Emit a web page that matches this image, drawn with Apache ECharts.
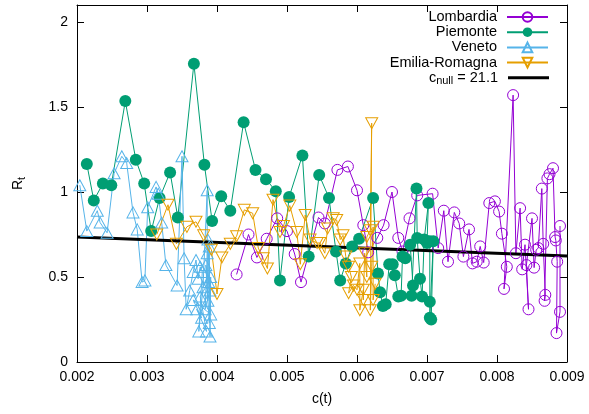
<!DOCTYPE html>
<html><head><meta charset="utf-8">
<script src="https://cdn.jsdelivr.net/npm/echarts@6/dist/echarts.min.js"></script>
<style>html,body{margin:0;padding:0;background:#fff}#c{width:589px;height:414px}</style>
</head><body><div id="c"></div>
<script>
// ---- data ----
const xTicks = [0.002, 0.009, 0.001];   // min, max, step of c(t)
const yTicks = [0, 2.1, 0.5];           // min, max, step of R_t

const lombC = [0.00428,0.00445,0.00457,0.00471,0.00486,0.00500,0.00511,0.00520,0.00545,0.00554,0.00572,0.00587,0.00600,0.00609,0.00616,0.00629,0.00638,0.00650,0.00659,0.00665,0.00675,0.00686,0.00708,0.00716,0.00724,0.00730,0.00739,0.00746,0.00752,0.00760,0.00765,0.00771,0.00776,0.00781,0.00789,0.00797,0.00803,0.00807,0.00814,0.00810,0.00823,0.00827,0.00833,0.00836,0.00840,0.00845,0.00842,0.00850,0.00853,0.00856,0.00859,0.00864,0.00866,0.00869,0.00868,0.00872,0.00875,0.00880,0.00883,0.00884,0.00886,0.00885,0.00890,0.00890];
const lombR = [0.515,0.75,0.615,0.725,0.845,0.77,0.635,0.47,0.85,0.815,1.13,1.15,1.01,0.805,0.645,0.73,0.805,1.0,0.73,0.65,0.845,0.98,0.99,0.67,0.89,0.59,0.88,0.815,0.62,0.78,0.58,0.59,0.68,0.585,0.935,0.945,0.885,0.755,0.56,0.43,1.57,0.64,0.905,0.545,0.69,0.31,0.57,0.845,0.555,0.66,0.67,1.02,0.695,0.395,0.36,1.08,1.105,1.14,0.735,0.715,0.59,0.17,0.295,0.80];

const pieC = [0.00214,0.00224,0.00237,0.00249,0.00269,0.00284,0.00296,0.00306,0.00318,0.00333,0.00344,0.00367,0.00382,0.00393,0.00406,0.00419,0.00438,0.00455,0.00470,0.00484,0.00490,0.00503,0.00522,0.00531,0.00546,0.00560,0.00570,0.00576,0.00584,0.00593,0.00603,0.00623,0.00630,0.00633,0.00637,0.00641,0.00646,0.00651,0.00654,0.00659,0.00663,0.00665,0.00669,0.00676,0.00680,0.00678,0.00685,0.00686,0.00690,0.00693,0.00696,0.00702,0.00700,0.00704,0.00704,0.00704,0.00709,0.00706];
const pieR = [1.165,0.95,1.05,1.04,1.535,1.19,1.05,0.77,0.965,1.115,0.85,1.755,1.16,0.83,0.975,0.89,1.41,1.13,1.075,1.005,0.48,0.97,1.215,0.62,1.10,0.965,0.65,0.48,0.58,0.68,0.725,0.965,0.52,0.41,0.33,0.34,0.575,0.575,0.51,0.385,0.39,0.62,0.61,0.69,0.45,0.39,1.02,0.73,0.49,0.385,0.72,0.935,0.70,0.71,0.355,0.26,0.71,0.25];

const venC = [0.00204,0.00214,0.00229,0.00233,0.00243,0.00253,0.00264,0.00271,0.00280,0.00286,0.00293,0.00297,0.00301,0.00313,0.00316,0.00321,0.00327,0.00343,0.00350,0.00353,0.00356,0.00361,0.00366,0.00370,0.00373,0.00376,0.00379,0.00374,0.00380,0.00386,0.00386,0.00387,0.00389,0.00390,0.00391,0.00389,0.00384,0.00390,0.00383,0.00387,0.00391,0.00366,0.00378,0.00371,0.00385,0.00376,0.00388];
const venR = [1.04,0.77,0.89,0.82,0.76,1.11,1.21,1.17,0.88,0.78,0.47,0.48,0.91,1.03,0.99,0.82,0.57,0.45,1.21,0.61,0.31,0.42,0.53,0.60,0.49,0.56,0.53,0.18,0.44,1.01,0.64,0.36,0.68,0.15,0.50,0.23,0.57,0.42,0.31,0.72,0.28,0.365,0.26,0.31,0.18,0.385,0.47];

const emC = [0.00314,0.00330,0.00342,0.00357,0.00370,0.00381,0.00392,0.00400,0.00407,0.00419,0.00428,0.00439,0.00451,0.00459,0.00466,0.00472,0.00480,0.00490,0.00495,0.00504,0.00514,0.00519,0.00526,0.00533,0.00543,0.00547,0.00554,0.00558,0.00566,0.00571,0.00576,0.00580,0.00584,0.00588,0.00592,0.00588,0.00595,0.00600,0.00604,0.00604,0.00609,0.00609,0.00611,0.00614,0.00614,0.00619,0.00621,0.00619,0.00621,0.00623,0.00623,0.00626];
const emR = [0.75,0.925,0.695,0.795,0.825,0.745,0.66,0.40,0.615,0.695,0.74,0.895,0.875,0.67,0.61,0.55,0.955,0.765,0.80,0.92,0.765,0.575,0.865,0.72,0.70,0.70,0.64,0.785,0.845,0.835,0.72,0.745,0.62,0.56,0.50,0.405,0.45,0.425,0.58,0.305,0.425,0.365,0.64,0.50,0.735,0.775,1.405,0.305,0.56,0.795,0.365,0.46];

const fitC = [0.002, 0.009];
const fitR = [0.735, 0.624];

const names = ['Lombardia','Piemonte','Veneto','Emilia-Romagna','fit'];

// ---- chart ----
const FONT = 'Liberation Sans';
const zip = (a,b) => a.map((v,i) => [v, b[i]]);
const chart = echarts.init(document.getElementById('c'));

function mk(name, c, r, color, symbol, size, filled){
  return {
    name, type:'line', data: zip(c, r), symbol, symbolSize: size,
    itemStyle: {color: filled ? color : 'rgba(255,255,255,0)', borderColor: color, borderWidth: filled ? 0 : 1},
    lineStyle: {color, width: 1}, emphasis: {disabled: true}, animation: false
  };
}
const series = [
  mk(names[0], lombC, lombR, '#9400d3', 'circle', 11, false),
  mk(names[1], pieC, pieR, '#009e73', 'circle', 12, true),
  mk(names[2], venC, venR, '#56b4e9', 'triangle', [12,11], false),
  mk(names[3], emC, emR, '#e69f00', 'path://M0,0 L12,0 L6,11 Z', [12,11], false),
  {name: names[4], type:'line', data: zip(fitC, fitR), symbol:'none', color:'#000',
   itemStyle:{color:'#000'},
   lineStyle:{color:'#000', width:3}, emphasis:{disabled:true}, animation:false}
];

const legends = names.map((n, i) => ({
  data: [n === 'fit' ? {name: n, icon: 'rect'} : n],
  orient:'vertical', align:'right', right: 40, top: 9.5 + i*15.2,
  padding: 0, itemWidth: 41, itemHeight: n === 'fit' ? 3 : 12, selectedMode: false,
  formatter: nm => nm === 'fit' ? '{a|c}{s|null}{a| = 21.1}' : nm,
  textStyle: {fontFamily: FONT, fontSize: 14.5, color:'#000', padding:[0,5,0,0],
    rich: {a:{fontFamily: FONT, fontSize:14.5, color:'#000'}, s:{fontFamily: FONT, fontSize:11, color:'#000', padding:[7,0,0,0]}}}
}));

const axCommon = (min, max, step) => ({
  type:'value', min, max, interval: step,
  axisLine:{show:true, onZero:false, lineStyle:{color:'#000', width:1}},
  axisTick:{show:true, inside:true, length:7, lineStyle:{color:'#000', width:1}},
  splitLine:{show:false}
});

chart.setOption({
  animation:false,
  grid:{left:77, right:22, top:5, bottom:52, containLabel:false},
  legend: legends,
  xAxis:[
    Object.assign(axCommon(xTicks[0], xTicks[1], xTicks[2]), {position:'bottom',
      axisLabel:{color:'#000', fontFamily:FONT, fontSize:14, margin:8, formatter: v => v.toFixed(3)},
      name:'c(t)', nameLocation:'middle', nameGap:30,
      nameTextStyle:{color:'#000', fontFamily:FONT, fontSize:14}}),
    Object.assign(axCommon(xTicks[0], xTicks[1], xTicks[2]), {position:'top', axisLabel:{show:false}})
  ],
  yAxis:[
    Object.assign(axCommon(yTicks[0], yTicks[1], yTicks[2]), {position:'left',
      axisLabel:{color:'#000', fontFamily:FONT, fontSize:14, margin:9, showMaxLabel:false,
        formatter: v => (Math.abs(v/0.5 - Math.round(v/0.5)) < 1e-6) ? String(+v.toFixed(2)) : ''},
      name:'{r|R}{s|t}', nameLocation:'middle', nameGap:50, nameRotate:90,
      nameTextStyle:{rich:{r:{color:'#000', fontFamily:FONT, fontSize:14}, s:{color:'#000', fontFamily:FONT, fontSize:11, padding:[7,0,0,0]}}}}),
    Object.assign(axCommon(yTicks[0], yTicks[1], yTicks[2]), {position:'right', axisLabel:{show:false}})
  ],
  series
});
</script>
</body></html>
